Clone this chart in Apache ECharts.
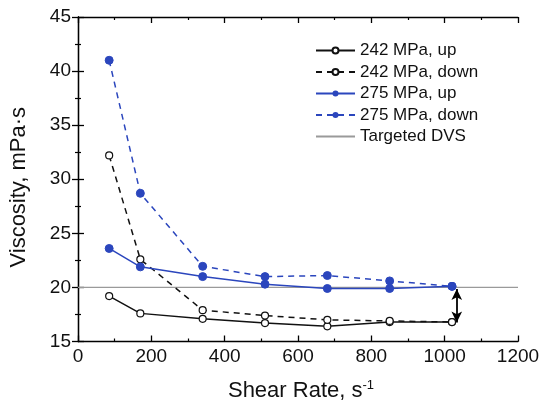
<!DOCTYPE html>
<html>
<head>
<meta charset="utf-8">
<script src="https://cdn.jsdelivr.net/npm/echarts@6/dist/echarts.min.js"></script>
<style>
  html, body { margin: 0; padding: 0; background: #fff; }
  #chart { width: 544px; height: 407px; }
</style>
</head>
<body>
<div id="chart"></div>
<script>
// Shear rates (s^-1) at which viscosity was measured
var shearRate = [85, 170, 340, 510, 680, 850, 1020];

// Viscosity (mPa·s) for each pressure and sweep direction
var v242up   = [19.2, 17.6, 17.1, 16.7, 16.4, 16.8, 16.8];
var v242down = [32.2, 22.6, 17.9, 17.4, 17.0, 16.9, 16.8];
var v275up   = [23.6, 21.9, 21.0, 20.3, 19.9, 19.9, 20.1];
var v275down = [41.0, 28.7, 21.95, 21.0, 21.1, 20.6, 20.1];

// Targeted DVS level
var targetX = [0, 1200];
var targetV = 20;

// Double arrow showing the spread at the highest shear rate
var arrowX = 1033;
var arrowY = [19.85, 16.75];

var xTicks = [0, 200, 400, 600, 800, 1000, 1200];
var yTicks = [15, 20, 25, 30, 35, 40, 45];

var BLUE = '#2b46bd';
var FONT = 'Liberation Sans, Arial, sans-serif';

function pairs(xs, ys) {
  return xs.map(function (x, i) { return [x, ys[i]]; });
}
function plain(v) { return String(v); }

var chart = echarts.init(document.getElementById('chart'));

var axisLineStyle = { color: '#000', width: 1.3 };
var majorTick = { inside: true, length: 6, lineStyle: axisLineStyle };
var minorTick = { show: true, splitNumber: 2, length: 3, lineStyle: { color: '#000', width: 1.2 } };

chart.setOption({
  animation: false,
  grid: { left: 77, right: 26, top: 17, bottom: 63, containLabel: false },
  legend: {
    orient: 'vertical',
    left: 310,
    top: 37,
    itemWidth: 39,
    itemHeight: 7.5,
    itemGap: 4.5,
    textStyle: { fontFamily: FONT, fontSize: 17, color: '#111' },
    data: [
      '242 MPa, up',
      '242 MPa, down',
      '275 MPa, up',
      '275 MPa, down',
      { name: 'Targeted DVS', itemStyle: { opacity: 0 } }
    ]
  },
  xAxis: [{
    type: 'value',
    min: xTicks[0],
    max: xTicks[xTicks.length - 1],
    interval: 200,
    name: 'Shear Rate, s{sup|-1}',
    nameLocation: 'middle',
    nameGap: 37,
    nameTextStyle: {
      fontFamily: FONT, fontSize: 22, color: '#111', padding: [0, 0, 0, 6],
      rich: { sup: { fontFamily: FONT, fontSize: 13, verticalAlign: 'top', padding: [0, 0, 12, 0] } }
    },
    axisLine: { show: true, lineStyle: axisLineStyle },
    axisTick: majorTick,
    minorTick: minorTick,
    axisLabel: { fontFamily: FONT, fontSize: 19, color: '#111', margin: 6, formatter: plain },
    splitLine: { show: false }
  }, {
    type: 'value',
    position: 'top',
    min: xTicks[0],
    max: xTicks[xTicks.length - 1],
    interval: 200,
    axisLine: { show: true, lineStyle: axisLineStyle },
    axisTick: majorTick,
    minorTick: minorTick,
    axisLabel: { show: false },
    splitLine: { show: false }
  }],
  yAxis: [{
    type: 'value',
    min: yTicks[0],
    max: yTicks[yTicks.length - 1],
    interval: 5,
    name: 'Viscosity, mPa·s',
    nameLocation: 'middle',
    nameGap: 48,
    nameTextStyle: { fontFamily: FONT, fontSize: 22, color: '#111', padding: [0, 16, 0, 0] },
    axisLine: { show: true, lineStyle: axisLineStyle },
    axisTick: majorTick,
    minorTick: minorTick,
    axisLabel: { fontFamily: FONT, fontSize: 19, color: '#111', margin: 7, formatter: plain },
    splitLine: { show: false }
  }, {
    type: 'value',
    position: 'right',
    min: yTicks[0],
    max: yTicks[yTicks.length - 1],
    interval: 5,
    axisLine: { show: true, lineStyle: axisLineStyle },
    axisTick: majorTick,
    minorTick: minorTick,
    axisLabel: { show: false },
    splitLine: { show: false }
  }],
  series: [{
    name: '242 MPa, up',
    type: 'line',
    data: pairs(shearRate, v242up),
    symbol: 'circle',
    symbolSize: 7,
    lineStyle: { color: '#111', width: 1.5, type: 'solid' },
    itemStyle: { color: '#fff', borderColor: '#111', borderWidth: 1.2 },
    z: 3
  }, {
    name: '242 MPa, down',
    type: 'line',
    data: pairs(shearRate, v242down),
    symbol: 'circle',
    symbolSize: 7,
    lineStyle: { color: '#111', width: 1.5, type: [6, 5] },
    itemStyle: { color: '#fff', borderColor: '#111', borderWidth: 1.2 },
    z: 3,
    markLine: {
      silent: true,
      symbol: ['arrow', 'arrow'],
      symbolSize: [8, 11],
      label: { show: false },
      lineStyle: { color: '#000', width: 1.8, type: 'solid' },
      data: [[{ coord: [arrowX, arrowY[0]] }, { coord: [arrowX, arrowY[1]] }]]
    }
  }, {
    name: '275 MPa, up',
    type: 'line',
    data: pairs(shearRate, v275up),
    symbol: 'circle',
    symbolSize: 8,
    lineStyle: { color: BLUE, width: 1.5, type: 'solid' },
    itemStyle: { color: BLUE, borderColor: BLUE },
    z: 4
  }, {
    name: '275 MPa, down',
    type: 'line',
    data: pairs(shearRate, v275down),
    symbol: 'circle',
    symbolSize: 8,
    lineStyle: { color: BLUE, width: 1.5, type: [6, 5] },
    itemStyle: { color: BLUE, borderColor: BLUE },
    z: 4
  }, {
    name: 'Targeted DVS',
    type: 'line',
    data: targetX.map(function (x) { return [x, targetV]; }),
    symbol: 'none',
    lineStyle: { color: '#9a9a9a', width: 1.3 },
    itemStyle: { color: '#9a9a9a' },
    z: 2
  }]
});
</script>
</body>
</html>
